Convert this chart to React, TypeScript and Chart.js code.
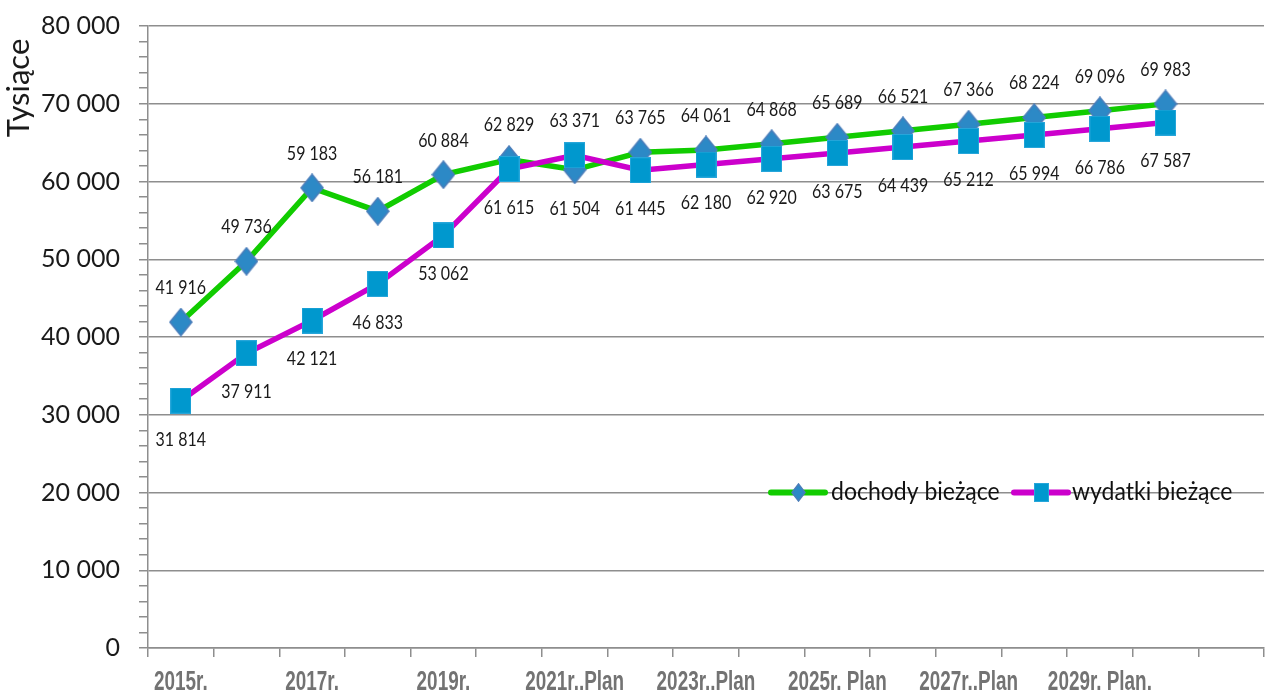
import React, { useEffect, useRef } from 'react';
import { Chart, registerables } from 'chart.js';

Chart.register(...registerables);

const categories = [
  '2015r.', '2016r.', '2017r.', '2018r.', '2019r.', '2020r.',
  '2021r..Plan', '2022r..Plan', '2023r..Plan', '2024r..Plan',
  '2025r. Plan', '2026r. Plan', '2027r..Plan', '2028r..Plan',
  '2029r. Plan.', '2030r. Plan.', '',
];

const dochody = [
  41916, 49736, 59183, 56181, 60884, 62829, 61504, 63765,
  64061, 64868, 65689, 66521, 67366, 68224, 69096, 69983,
];

const wydatki = [
  31814, 37911, 42121, 46833, 53062, 61615, 63371, 61445,
  62180, 62920, 63675, 64439, 65212, 65994, 66786, 67587,
];

const seriesNames = ['dochody bieżące', 'wydatki bieżące'];
const yMin = 0;
const yMax = 80000;
const yMajorStep = 10000;
const yMinorStep = 2000;
const yTitle = 'Tysiące';

const fmt = (v: number) => String(Math.round(v)).replace(/\B(?=(\d{3})+(?!\d))/g, ' ');

const GREEN = '#11CC00';
const MAGENTA = '#CC00CC';
const DIAMOND_FILL = '#2C89C6';
const DIAMOND_BORDER = '#4A7DBA';
const SQUARE_FILL = '#0098CE';
const GRID = '#8E8E8E';

function makeDiamond(w: number, h: number) {
  const c = document.createElement('canvas');
  c.width = w;
  c.height = h;
  const g = c.getContext('2d')!;
  g.fillStyle = DIAMOND_FILL;
  g.strokeStyle = DIAMOND_BORDER;
  g.lineWidth = 1.5;
  g.beginPath();
  g.moveTo(w / 2, 1);
  g.lineTo(w - 1, h / 2);
  g.lineTo(w / 2, h - 1);
  g.lineTo(1, h / 2);
  g.closePath();
  g.fill();
  g.stroke();
  return c;
}

function makeSquare(w: number, h: number) {
  const c = document.createElement('canvas');
  c.width = w;
  c.height = h;
  const g = c.getContext('2d')!;
  g.fillStyle = SQUARE_FILL;
  g.fillRect(0, 0, w, h);
  g.strokeStyle = '#27A6DA';
  g.lineWidth = 1;
  g.strokeRect(0.5, 0.5, w - 1, h - 1);
  return c;
}

const labelPlugin = {
  id: 'valueLabels',
  afterDatasetsDraw(chart: any) {
    const ctx = chart.ctx;
    const y = chart.scales.y;
    const n = Math.max(dochody.length, wydatki.length);
    ctx.save();
    ctx.font = '16px Lato, "Open Sans", sans-serif';
    ctx.fillStyle = '#1a1a1a';
    ctx.textAlign = 'center';
    ctx.textBaseline = 'middle';
    for (let i = 0; i < n; i++) {
      const pairs = [
        { meta: chart.getDatasetMeta(0), v: dochody[i], other: wydatki[i] },
        { meta: chart.getDatasetMeta(1), v: wydatki[i], other: dochody[i] },
      ];
      for (const p of pairs) {
        if (p.v == null) continue;
        const el = p.meta.data[i];
        if (!el) continue;
        const above = p.v >= p.other;
        const py = y.getPixelForValue(p.v);
        ctx.save();
        ctx.translate(el.x, above ? py - 34 : py + 39);
        ctx.scale(1, 1.15);
        ctx.fillText(fmt(p.v), 0, 0);
        ctx.restore();
      }
    }
    ctx.restore();
  },
};

const axisTextPlugin = {
  id: 'axisText',
  afterDraw(chart: any) {
    const ctx = chart.ctx;
    const xs = chart.scales.x;
    const area = chart.chartArea;
    ctx.save();
    ctx.fillStyle = '#737373';
    ctx.font = 'bold 27px "Liberation Sans", Arial, sans-serif';
    ctx.textAlign = 'center';
    ctx.textBaseline = 'middle';
    categories.forEach((lab, i) => {
      if (i % 2 !== 0 || !lab) return;
      const x = xs.getPixelForValue(i);
      ctx.save();
      ctx.translate(x, area.bottom + 35);
      ctx.scale(0.7, 1);
      ctx.fillText(lab, 0, 0);
      ctx.restore();
    });
    ctx.fillStyle = '#1a1a1a';
    ctx.font = '31px Lato, "Open Sans", sans-serif';
    ctx.textBaseline = 'alphabetic';
    ctx.textAlign = 'center';
    ctx.translate(29, area.top + 62);
    ctx.rotate(-Math.PI / 2);
    ctx.fillText(yTitle, 0, 0);
    ctx.restore();
  },
};

const legendPlugin = {
  id: 'inlineLegend',
  afterDraw(chart: any, _args: any, opts: any) {
    const ctx = chart.ctx;
    const area = chart.chartArea;
    const ly = area.top + area.height * 0.75;
    ctx.save();
    const items = [
      { x0: 771, color: GREEN, img: opts.diamond, text: seriesNames[0], tx: 831, tw: 170 },
      { x0: 1014, color: MAGENTA, img: opts.square, text: seriesNames[1], tx: 1072, tw: 163 },
    ];
    for (const it of items) {
      ctx.strokeStyle = it.color;
      ctx.lineWidth = 6;
      ctx.lineCap = 'round';
      ctx.beginPath();
      ctx.moveTo(it.x0, ly);
      ctx.lineTo(it.x0 + 54, ly);
      ctx.stroke();
      const cx = it.x0 + 27;
      if (it.img) {
        ctx.drawImage(it.img, Math.round(cx - it.img.width / 2), Math.round(ly - it.img.height / 2));
      }
      ctx.fillStyle = '#111';
      ctx.font = '23px Lato, "Open Sans", sans-serif';
      ctx.textAlign = 'left';
      ctx.textBaseline = 'middle';
      ctx.save();
      ctx.translate(it.tx, ly - 1);
      ctx.scale(1, 1.1);
      ctx.fillText(it.text, 0, 0, it.tw);
      ctx.restore();
    }
    ctx.restore();
  },
};

export default function App() {
  const ref = useRef<HTMLCanvasElement | null>(null);

  useEffect(() => {
    document.body.style.margin = '0';
    const canvas = ref.current;
    if (!canvas) return;
    const diamond = makeDiamond(24, 29);
    const square = makeSquare(21, 26);
    const legendDiamond = makeDiamond(15, 19);
    const legendSquare = makeSquare(15, 19);
    const chart: any = new Chart(canvas, {
      type: 'line',
      data: {
        labels: categories,
        datasets: [
          {
            label: seriesNames[0],
            data: dochody,
            borderColor: GREEN,
            borderWidth: 5.5,
            backgroundColor: DIAMOND_FILL,
            pointStyle: diamond,
            pointRadius: 13,
            tension: 0,
            order: 2,
          },
          {
            label: seriesNames[1],
            data: wydatki,
            borderColor: MAGENTA,
            borderWidth: 5.5,
            backgroundColor: SQUARE_FILL,
            pointStyle: square,
            pointRadius: 13,
            tension: 0,
            order: 1,
          },
        ],
      },
      options: {
        responsive: false,
        animation: false,
        events: [],
        layout: { autoPadding: false, padding: { top: 26, right: 4, left: 0, bottom: 0 } },
        plugins: {
          legend: { display: false },
          tooltip: { enabled: false },
          inlineLegend: { diamond: legendDiamond, square: legendSquare },
        },
        scales: {
          x: {
            type: 'category',
            offset: true,
            grid: {
              offset: true,
              drawOnChartArea: false,
              drawTicks: true,
              tickLength: 9,
              color: GRID,
              tickColor: GRID,
              lineWidth: 1.5,
            },
            border: { display: true, color: GRID, width: 1.5 },
            ticks: {
              autoSkip: false,
              maxRotation: 0,
              minRotation: 0,
              padding: 0,
              callback: () => '',
            },
            afterFit: (s: any) => {
              s.height = 47;
              s.paddingLeft = 0;
              s.paddingRight = 0;
            },
          },
          y: {
            min: yMin,
            max: yMax,
            grid: {
              color: (c: any) => (c.tick && c.tick.value % yMajorStep === 0 ? GRID : 'rgba(0,0,0,0)'),
              tickColor: GRID,
              tickLength: 9,
              lineWidth: 1.5,
            },
            border: { display: true, color: GRID, width: 1.5 },
            ticks: {
              stepSize: yMinorStep,
              autoSkip: false,
              padding: 19,
              color: '#1a1a1a',
              font: { family: 'Lato, "Open Sans", sans-serif', size: 25 },
              callback: (v: any) => (Number(v) % yMajorStep === 0 ? fmt(Number(v)) : ''),
            },
            afterFit: (s: any) => {
              s.width = 148;
              s.paddingTop = 0;
              s.paddingBottom = 0;
            },
          },
        },
      },
      plugins: [labelPlugin, axisTextPlugin, legendPlugin],
    } as any);
    return () => chart.destroy();
  }, []);

  return (
    <div style={{ width: 1268, height: 695, position: 'relative', background: '#fff' }}>
      <canvas ref={ref} width={1268} height={695} />
    </div>
  );
}
